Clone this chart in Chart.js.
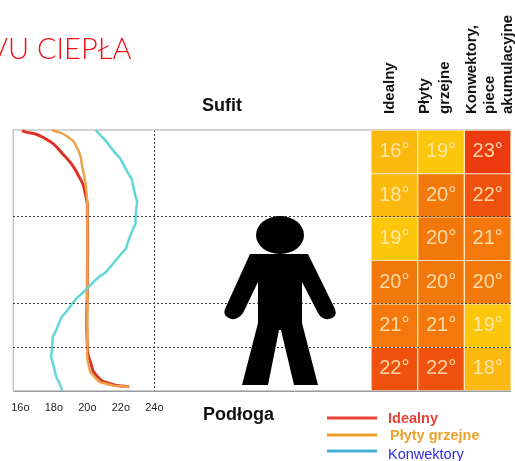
<!DOCTYPE html>
<html>
<head>
<meta charset="utf-8">
<style>
  html, body { margin: 0; padding: 0; background: #fff; overflow: hidden; }
  #wrap { width: 515px; height: 461px; position: relative; }
</style>
<script src="https://cdn.jsdelivr.net/npm/chart.js@4"></script>
</head>
<body>
<div id="wrap"><canvas id="chart" width="515" height="461"></canvas></div>
<script>
// temperature profile: [temperature, height in rows above floor]
const idealTemps = [16.1, 17.4, 18.6, 19.4, 19.9, 20, 20, 20, 20.2, 20.6, 21.4, 22.5];
const idealHeights = [5.98, 5.82, 5.42, 5.0, 4.5, 4.0, 2.5, 1.02, 0.64, 0.33, 0.16, 0.09];
const panelTemps = [17.9, 18.8, 19.4, 19.7, 19.95, 20, 20, 20, 20.05, 20.4, 21.2, 22.5];
const panelHeights = [6, 5.85, 5.58, 5.15, 4.55, 4.0, 2.5, 1.02, 0.64, 0.33, 0.15, 0.09];
const convTemps = [20.5, 21.4, 22.3, 22.8, 22.9, 22.6, 21.8, 20, 18.9, 18.2, 17.9, 18, 18.5];
const convHeights = [6, 5.6, 5.1, 4.6, 4.1, 3.6, 3.05, 2.36, 1.9, 1.45, 1.0, 0.55, 0];

// heat table, rows from ceiling to floor
const idealCells = [16, 18, 19, 20, 21, 22];
const panelCells = [19, 20, 20, 20, 21, 22];
const convCells = [23, 22, 21, 20, 19, 18];

const xTicks = [16, 18, 20, 22, 24];
const dottedRows = [1, 2, 4];
const legendNames = ['Idealny', 'Płyty grzejne', 'Konwektory'];

const cellColors = { 16: '#fbb80e', 18: '#fbb80e', 19: '#fcc60a', 20: '#f2780c', 21: '#f5780c', 22: '#f0510f', 23: '#ee3a10' };
const FONT = '"Liberation Sans", Arial, sans-serif';

function zip(xs, ys) {
  return xs.map((x, i) => ({ x: x, y: ys[i] }));
}

function lineSet(xs, ys, color, width, tension) {
  return {
    type: 'scatter', showLine: true, data: zip(xs, ys), borderColor: color, borderWidth: width,
    pointRadius: 0, tension: tension, xAxisID: 'x', yAxisID: 'y', clip: false
  };
}

function cellSet(cells, col) {
  return {
    type: 'bar', grouped: false, xAxisID: 'col', yAxisID: 'y',
    data: cells.map((t, i) => ({ x: col, y: [5 - i, 6 - i], t: t })),
    backgroundColor: cells.map(t => cellColors[t]),
    borderColor: 'rgba(255,225,170,0.7)', borderWidth: 1,
    barPercentage: 1, categoryPercentage: 1
  };
}

// cell labels, headings, legend and the figure, none of which are axes
const extras = {
  id: 'extras',
  afterDraw(chart) {
    const c = chart.ctx;
    c.save();

    // figure
    c.fillStyle = '#000';
    c.beginPath();
    c.ellipse(280, 235, 24, 19, 0, 0, Math.PI * 2);
    c.fill();
    c.beginPath();
    c.moveTo(250, 254); c.lineTo(308, 254); c.lineTo(335, 309);
    c.quadraticCurveTo(338, 317, 329, 319);
    c.quadraticCurveTo(322, 320, 318, 313);
    c.lineTo(302, 282); c.lineTo(302, 323); c.lineTo(318, 385);
    c.lineTo(294, 385); c.lineTo(281, 330); c.lineTo(279, 330);
    c.lineTo(268, 385); c.lineTo(242, 385); c.lineTo(258, 323);
    c.lineTo(258, 282); c.lineTo(243, 313);
    c.quadraticCurveTo(238, 320, 231, 319);
    c.quadraticCurveTo(222, 316, 225, 309);
    c.closePath();
    c.fill();

    // temperatures in the cells
    c.textAlign = 'center';
    c.textBaseline = 'middle';
    c.font = '20px ' + FONT;
    c.fillStyle = 'rgba(255,236,190,0.85)';
    chart.data.datasets.forEach((ds, i) => {
      if (ds.type !== 'bar') return;
      chart.getDatasetMeta(i).data.forEach((bar, j) => {
        const mid = (bar.y + bar.base) / 2;
        c.fillText(ds.data[j].t + '°', bar.x, mid);
      });
    });

    // title cut by the left edge
    c.textAlign = 'left';
    c.textBaseline = 'alphabetic';
    c.fillStyle = '#f01018';
    c.font = '300 29px Lato, sans-serif';
    c.fillText('VU CIEPŁA', -11, 59);

    c.fillStyle = '#111';
    c.font = 'bold 18px ' + FONT;
    c.fillText('Sufit', 202, 111);
    c.fillText('Podłoga', 203, 420);

    // column headings
    const heads = [[394, 'Idealny'], [429, 'Płyty'], [449, 'grzejne'], [476, 'Konwektory,'], [494, 'piece'], [512, 'akumulacyjne']];
    c.font = 'bold 15px ' + FONT;
    heads.forEach(h => {
      c.save();
      c.translate(h[0], 114);
      c.rotate(-Math.PI / 2);
      c.fillText(h[1], 0, 0);
      c.restore();
    });

    // legend
    const lineCols = ['#e8423a', '#eda02c', '#45b0d6'];
    const textCols = ['#e8423a', '#eda02c', '#2a2aee'];
    const lineY = [418, 435, 451];
    const textY = [423, 440, 459];
    legendNames.forEach((name, i) => {
      c.strokeStyle = lineCols[i];
      c.lineWidth = 3;
      c.beginPath();
      c.moveTo(327, lineY[i]);
      c.lineTo(377, lineY[i]);
      c.stroke();
      c.fillStyle = textCols[i];
      c.font = (i < 2 ? 'bold ' : '') + '14.5px ' + FONT;
      c.fillText(name, i === 1 ? 390 : 388, textY[i]);
    });
    c.restore();
  }
};

new Chart(document.getElementById('chart'), {
  data: {
    datasets: [
      cellSet(idealCells, 0),
      cellSet(panelCells, 1),
      cellSet(convCells, 2),
      lineSet(convTemps, convHeights, '#62d6d8', 2.5, 0.9),
      lineSet(panelTemps, panelHeights, '#eda24a', 2.5, 0.6),
      lineSet(idealTemps, idealHeights, '#dc3224', 3, 0.6)
    ]
  },
  options: {
    responsive: false,
    animation: false,
    events: [],
    layout: { padding: { left: 13, right: 4, top: 130, bottom: 35 } },
    plugins: { legend: { display: false }, title: { display: false }, tooltip: { enabled: false } },
    scales: {
      x: {
        type: 'linear', position: 'bottom', min: 15.58, max: 45.3, offset: false,
        afterBuildTicks(axis) { axis.ticks = xTicks.map(v => ({ value: v })); },
        ticks: {
          autoSkip: false, maxRotation: 0, padding: 11, color: '#222',
          font: { family: FONT, size: 11 },
          callback: v => v + 'o'
        },
        grid: {
          drawTicks: false, tickLength: 0,
          color: ctx => (ctx.tick && ctx.tick.value === 24 ? 'rgba(50,50,50,0.9)' : 'transparent'),
          lineWidth: 1
        },
        border: { display: false, dash: [2, 2] }
      },
      col: { type: 'linear', display: false, min: -8.165, max: 2.5, offset: false },
      y: {
        type: 'linear', min: 0, max: 6,
        ticks: { display: false, stepSize: 1 },
        grid: {
          z: 1, drawTicks: false, tickLength: 0,
          color: ctx => (dottedRows.includes(ctx.tick.value) ? 'rgba(50,50,50,0.9)' : 'transparent'),
          lineWidth: 1
        },
        border: { display: false, dash: [2, 2] }
      }
    }
  },
  plugins: [extras, {
    id: 'frame',
    beforeDatasetsDraw(chart) {
      const c = chart.ctx, a = chart.chartArea;
      c.save();
      c.strokeStyle = '#c4c4c4';
      c.lineWidth = 1.5;
      c.beginPath();
      c.moveTo(a.left, a.bottom);
      c.lineTo(a.left, a.top);
      c.lineTo(a.right, a.top);
      c.stroke();
      c.strokeStyle = '#9a9a9a';
      c.beginPath();
      c.moveTo(a.left, a.bottom + 0.5);
      c.lineTo(a.right, a.bottom + 0.5);
      c.stroke();
      c.restore();
    }
  }]
});
</script>
</body>
</html>
